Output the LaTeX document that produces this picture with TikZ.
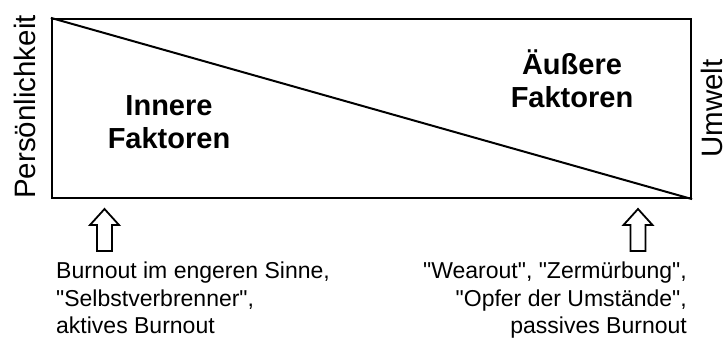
\documentclass[tikz,border=0pt]{standalone}
\usepackage{fontspec}
\setmainfont{Liberation Sans}[Ligatures=TeXOff]
\begin{document}
\begin{tikzpicture}[x=1pt,y=-1pt,
  frame/.style={draw, line width=2.2pt, inner sep=0pt, minimum width=639pt, minimum height=179pt},
  diag/.style={line width=2pt},
  blockarrow/.style={draw, line width=1.8pt, fill=white, line join=miter},
  side/.style={font=\fontsize{29.5}{34}\selectfont, inner sep=0pt, rotate=90, anchor=base},
  factor/.style={font=\fontsize{29}{33}\selectfont\bfseries, inner sep=0pt, align=center, anchor=north},
  note/.style={font=\fontsize{23}{27.5}\selectfont, inner sep=0pt},
  uparrow/.pic={\draw[blockarrow] (0,0) -- (14.5,16) -- (7.5,16) -- (7.5,42) -- (-7.5,42) -- (-7.5,16) -- (-14.5,16) -- cycle;}
]
\useasboundingbox (0,0) rectangle (726,338);
\node[frame] (box) at (371.5,108.5) {};
\draw[diag] (box.north west) -- (box.south east);
\node[factor] (inner) at (169,95) {Innere\\Faktoren};
\node[factor] (outer) at (572,50) {Äußere\\Faktoren};
\node[side] (pers) at (35,107) {Persönlichkeit};
\node[side] (umwelt) at (722,108.5) {Umwelt};
\pic at (104.5,209) {uparrow};
\pic at (638,209) {uparrow};
\node[note, anchor=north west, align=left] (active) at (56,262) {Burnout im engeren Sinne,\\"Selbstverbrenner",\\aktives Burnout};
\node[note, anchor=north east, align=right] (passive) at (687,262) {"Wearout", "Zermürbung",\\"Opfer der Umstände",\\passives Burnout};
\end{tikzpicture}
\end{document}
